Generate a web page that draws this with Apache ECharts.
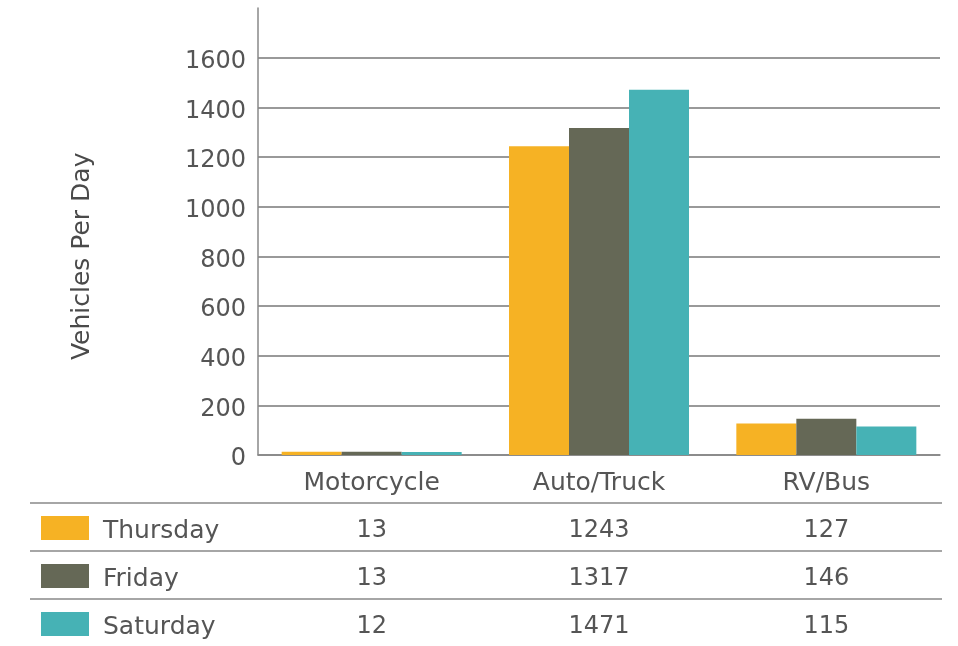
<!DOCTYPE html>
<html>
<head>
<meta charset="utf-8">
<script src="https://cdn.jsdelivr.net/npm/echarts@6/dist/echarts.min.js"></script>
<style>
html, body { margin: 0; padding: 0; background: #fff; }
#main { width: 958px; height: 646px; }
</style>
</head>
<body>
<div id="main"></div>
<script>
// data
var categories = ['Motorcycle', 'Auto/Truck', 'RV/Bus'];
var days = ['Thursday', 'Friday', 'Saturday'];
var thursday = [13, 1243, 127];
var friday = [13, 1317, 146];
var saturday = [12, 1471, 115];
var yTicks = [0, 200, 400, 600, 800, 1000, 1200, 1400, 1600];
var yTitle = 'Vehicles Per Day';

var colors = ['#F6B224', '#656856', '#46B2B5'];
var textColor = '#555';
var font = 'DejaVu Sans';
var rows = [thursday, friday, saturday];

var myChart = echarts.init(document.getElementById('main'));

option = {
	animation: false,
	textStyle: { fontFamily: font },
	grid: { left: 258, right: 18, top: 8, bottom: 191 },
	xAxis: {
		type: 'category',
		data: categories,
		axisTick: { show: false },
		axisLine: { lineStyle: { color: '#888', width: 1.5 } },
		axisLabel: { color: textColor, fontSize: 25, fontFamily: font, margin: 16 }
	},
	yAxis: {
		type: 'value',
		min: 0,
		max: 1800,
		interval: 200,
		axisLine: { show: true, lineStyle: { color: '#888', width: 1.5 } },
		axisTick: { show: false },
		axisLabel: {
			margin: 12,
			showMaxLabel: false,
			formatter: function (v) { return yTicks.indexOf(v) >= 0 ? '{a|' + v + '}' : ''; },
			rich: { a: { color: textColor, fontSize: 24, fontFamily: font, padding: [8, 0, 0, 0] } }
		},
		splitLine: { show: true, showMaxLine: false, lineStyle: { color: '#777', width: 1.5 } }
	},
	series: [
		{ name: days[0], type: 'bar', data: thursday, barWidth: 60, barGap: '0%', itemStyle: { color: colors[0] } },
		{ name: days[1], type: 'bar', data: friday, barWidth: 60, barGap: '0%', itemStyle: { color: colors[1] } },
		{ name: days[2], type: 'bar', data: saturday, barWidth: 60, barGap: '0%', itemStyle: { color: colors[2] } }
	]
};
myChart.setOption(option);

// y title centred on the 0..1600 range, then the data table under the chart
var titleY = (myChart.convertToPixel({ yAxisIndex: 0 }, 0) + myChart.convertToPixel({ yAxisIndex: 0 }, 1600)) / 2;
var els = [{
	type: 'text', x: 82, y: titleY, rotation: Math.PI / 2,
	style: { text: yTitle, fill: '#4a4a4a', font: '25px "' + font + '"', align: 'center', verticalAlign: 'middle' }
}];
var lineYs = [503, 551, 599];
var rowYs = [531, 579, 627];
lineYs.forEach(function (y) {
	els.push({ type: 'line', shape: { x1: 30, y1: y, x2: 942, y2: y }, style: { stroke: '#888', lineWidth: 1.5 } });
});
days.forEach(function (d, i) {
	els.push({ type: 'rect', shape: { x: 41, y: rowYs[i] - 15, width: 48, height: 24 }, style: { fill: colors[i] } });
	els.push({ type: 'text', x: 103, y: rowYs[i], style: { text: d, fill: textColor, font: '25px "' + font + '"', verticalAlign: 'middle' } });
	categories.forEach(function (c, j) {
		var px = myChart.convertToPixel({ xAxisIndex: 0 }, c);
		els.push({ type: 'text', x: px, y: rowYs[i], style: { text: String(rows[i][j]), fill: textColor, font: '24px "' + font + '"', align: 'center', verticalAlign: 'middle' } });
	});
});
myChart.setOption({ graphic: { elements: els } });
</script>
</body>
</html>
